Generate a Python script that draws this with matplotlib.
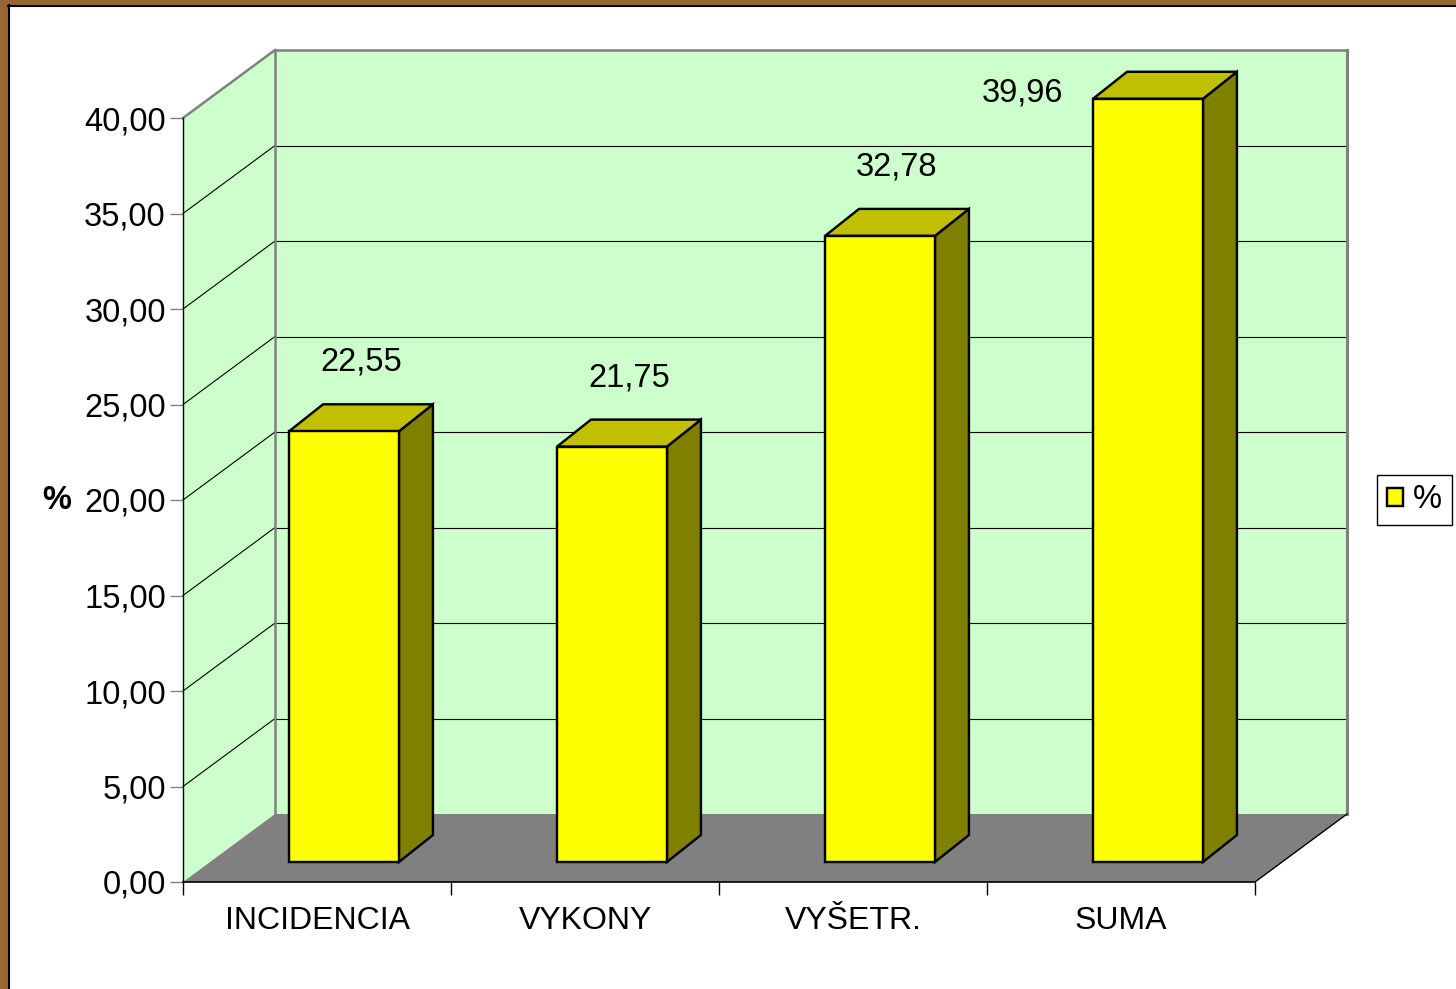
import matplotlib
matplotlib.use('Agg')
import matplotlib.pyplot as plt
from matplotlib.patches import Polygon, Rectangle
from matplotlib.lines import Line2D
from matplotlib.transforms import IdentityTransform, offset_copy
import numpy as np

# ---- data ----
categories = ['INCIDENCIA', 'VYKONY', 'VYŠETR.', 'SUMA']
values = [22.55, 21.75, 32.78, 39.96]
y_ticks = [0, 5, 10, 15, 20, 25, 30, 35, 40]
series_name = '%'
y_axis_label = '%'

# ---- style ----
W, H, DPI = 1456, 989, 100
plt.rcParams['font.family'] = ['Liberation Sans', 'DejaVu Sans']
FS = 23.5
PT = 72.0 / DPI  # points per pixel

WALL = '#CCFFCC'
FLOOR = '#808080'
EDGE_GRAY = '#808080'
FRONT = '#FFFF00'
TOP = '#C0C000'
SIDE = '#808000'

fig = plt.figure(figsize=(W / DPI, H / DPI), dpi=DPI, facecolor='white')
ax = fig.add_axes([183 / W, 107 / H, 1072 / W, 764 / H])
ax.set_xlim(0, len(categories))
ax.set_ylim(y_ticks[0], y_ticks[-1])
ax.patch.set_visible(False)

WALL_DEPTH = np.array([92.0, 68.0])   # pixel offset of the back wall
BAR_FRONT = np.array([27.0, 20.0])    # pixel offset of bar front faces
BAR_DEPTH = np.array([34.0, 27.0])    # pixel depth of bars
BAR_W = 0.41
BAR_LW = 2.4 * PT


def P(x, y, off=(0.0, 0.0)):
    return ax.transData.transform((x, y)) + np.asarray(off)


def poly(pts, **kw):
    p = Polygon(np.array(pts), closed=True, transform=IdentityTransform(),
                clip_on=False, **kw)
    ax.add_patch(p)
    return p


def line(p0, p1, **kw):
    l = Line2D([p0[0], p1[0]], [p0[1], p1[1]], transform=IdentityTransform(),
               clip_on=False, **kw)
    ax.add_line(l)
    return l


n = len(categories)
ymin, ymax = y_ticks[0], y_ticks[-1]

# back wall
poly([P(0, ymin, WALL_DEPTH), P(n, ymin, WALL_DEPTH), P(n, ymax, WALL_DEPTH), P(0, ymax, WALL_DEPTH)],
     facecolor=WALL, edgecolor='none', zorder=0.1)
# left wall
poly([P(0, ymin), P(0, ymax), P(0, ymax, WALL_DEPTH), P(0, ymin, WALL_DEPTH)],
     facecolor=WALL, edgecolor='none', zorder=0.1)
# floor
poly([P(0, ymin), P(n, ymin), P(n, ymin, WALL_DEPTH), P(0, ymin, WALL_DEPTH)],
     facecolor=FLOOR, edgecolor='none', zorder=0.15)

# gridlines
for t in y_ticks[1:-1]:
    line(P(0, t), P(0, t, WALL_DEPTH), color='#000000', lw=0.8, zorder=0.2)
    line(P(0, t, WALL_DEPTH), P(n, t, WALL_DEPTH), color='#000000', lw=0.8, zorder=0.2)

# wall edges
line(P(0, ymax), P(0, ymax, WALL_DEPTH), color=EDGE_GRAY, lw=1.8, zorder=0.3)
line(P(0, ymax, WALL_DEPTH), P(n, ymax, WALL_DEPTH), color=EDGE_GRAY, lw=1.8, zorder=0.3)
line(P(0, ymin, WALL_DEPTH), P(0, ymax, WALL_DEPTH), color=EDGE_GRAY, lw=1.8, zorder=0.3)
line(P(n, ymin, WALL_DEPTH), P(n, ymax, WALL_DEPTH), color=EDGE_GRAY, lw=2.2, zorder=0.3)
line(P(n, ymin), P(n, ymin, WALL_DEPTH), color='black', lw=1.0, zorder=0.3)

# bars
centers = np.arange(n) + 0.5
front_tr = offset_copy(ax.transData, fig=fig, x=BAR_FRONT[0], y=BAR_FRONT[1], units='dots')
bars = ax.bar(centers, values, width=BAR_W, color=FRONT, edgecolor='black',
              linewidth=BAR_LW, transform=front_tr, zorder=3.1, label=series_name,
              joinstyle='miter', clip_on=False)
for cx, v in zip(centers, values):
    l, r = cx - BAR_W / 2, cx + BAR_W / 2
    # side face
    poly([P(r, 0, BAR_FRONT), P(r, 0, BAR_FRONT + BAR_DEPTH),
          P(r, v, BAR_FRONT + BAR_DEPTH), P(r, v, BAR_FRONT)],
         facecolor=SIDE, edgecolor='black', lw=BAR_LW, zorder=3, joinstyle='miter')
    # top face
    poly([P(l, v, BAR_FRONT), P(r, v, BAR_FRONT),
          P(r, v, BAR_FRONT + BAR_DEPTH), P(l, v, BAR_FRONT + BAR_DEPTH)],
         facecolor=TOP, edgecolor='black', lw=BAR_LW, zorder=3, joinstyle='miter')

# data labels
top_limit = P(0, ymax, WALL_DEPTH)[1]
for cx, v in zip(centers, values):
    txt = f"{v:.2f}".replace('.', ',')
    top_c = P(cx, v, BAR_FRONT + BAR_DEPTH / 2)
    back_top = P(cx, v, BAR_FRONT + BAR_DEPTH)[1]
    ly = back_top + 42
    if ly + 15 > top_limit:
        fl = P(cx - BAR_W / 2, v, BAR_FRONT)
        ax.text(fl[0] - 30, fl[1] + 6, txt, transform=IdentityTransform(),
                ha='right', va='center', fontsize=FS, zorder=5)
    else:
        ax.text(top_c[0], ly, txt, transform=IdentityTransform(),
                ha='center', va='center', fontsize=FS, zorder=5)

# axes / ticks
for s in ['top', 'right']:
    ax.spines[s].set_visible(False)
ax.spines['left'].set_color('black')
ax.spines['bottom'].set_color('black')
ax.spines['left'].set_linewidth(1.0)
ax.spines['bottom'].set_linewidth(1.2)

ax.set_yticks(y_ticks)
ax.set_yticklabels([f"{t:.2f}".replace('.', ',') for t in y_ticks])
ax.tick_params(axis='y', direction='out', length=13 * PT, width=1, color='#808080',
               labelsize=FS, pad=3)

ax.set_xticks(np.arange(n + 1))
ax.set_xticklabels([])
ax.tick_params(axis='x', which='major', direction='out', length=13 * PT, width=1, color='black')
ax.set_xticks(centers, minor=True)
ax.set_xticklabels(categories, minor=True)
ax.tick_params(axis='x', which='minor', length=0, labelsize=FS - 0.5, pad=17)

ax.set_ylabel(y_axis_label, rotation=0, fontweight='bold', fontsize=FS, va='center', ha='center')
ax.yaxis.set_label_coords((57 - 183) / 1072, (882 - 500) / 764)

leg = ax.legend(handles=[bars], labels=[series_name], loc='center left',
                bbox_to_anchor=(1377 / W, (H - 500) / H), bbox_transform=fig.transFigure,
                frameon=True, fancybox=False, framealpha=1, edgecolor='black',
                borderpad=0.3, handlelength=0.5, handleheight=0.5,
                handletextpad=0.3, borderaxespad=0, fontsize=FS)
leg.get_frame().set_linewidth(1.0)

# brown frame on left and top
fig.patches.append(Rectangle((0, 0), 8 / W, 1, transform=fig.transFigure,
                             facecolor='#996633', edgecolor='none', zorder=10))
fig.patches.append(Rectangle((0, 1 - 5 / H), 1, 5 / H, transform=fig.transFigure,
                             facecolor='#996633', edgecolor='none', zorder=10))
fig.lines.append(Line2D([8.5 / W, 8.5 / W], [0, 1 - 5 / H], transform=fig.transFigure,
                        color='black', lw=1.5, zorder=11))
fig.lines.append(Line2D([8 / W, 1], [1 - 5.5 / H, 1 - 5.5 / H], transform=fig.transFigure,
                        color='black', lw=1.5, zorder=11))

fig.savefig('out.png', dpi=DPI, facecolor='white')
